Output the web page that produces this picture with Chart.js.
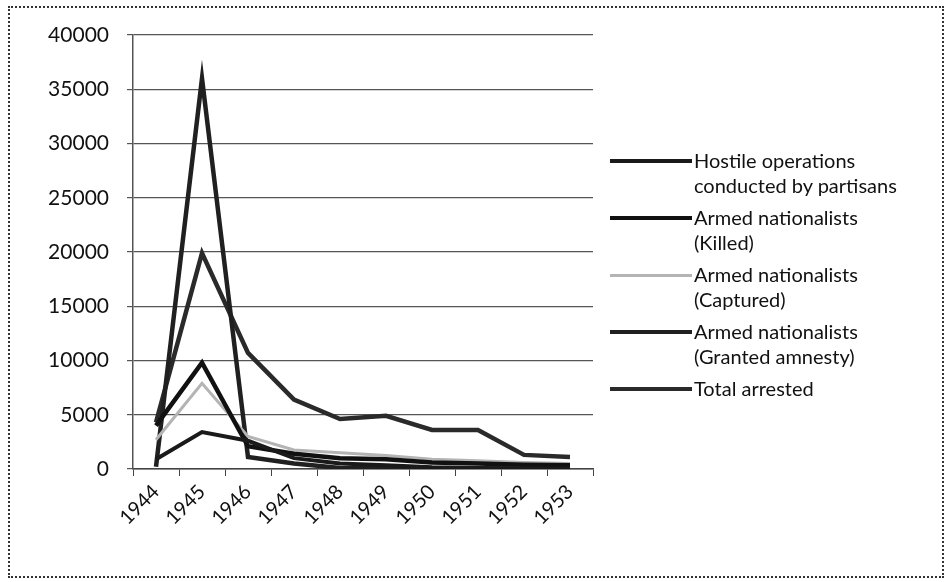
<!DOCTYPE html>
<html>
<head>
<meta charset="utf-8">
<script src="https://cdn.jsdelivr.net/npm/chart.js@4/dist/chart.umd.min.js"></script>
<style>
  body { margin: 0; background: #fff; }
  #wrap { position: relative; width: 951px; height: 582px; }
  #frame { position: absolute; left: 8px; top: 6px; width: 932px; height: 568px; border: 2px dotted #333; }
  #legend { position: absolute; left: 610px; top: 0; font-family: Lato, sans-serif; font-size: 20px; color: #111; }
  .item { position: absolute; left: 0; width: 330px; white-space: pre-line; line-height: 25px; }
  .sample { position: absolute; left: 0; width: 82px; }
  .txt { position: absolute; left: 84px; top: 0; width: 260px; }
</style>
</head>
<body>
<div id="wrap">
  <div id="frame"></div>
  <canvas id="canvas"></canvas>
  <div id="legend"></div>
</div>
<script>
var years = ['1944', '1945', '1946', '1947', '1948', '1949', '1950', '1951', '1952', '1953'];
var seriesNames = [
  'Hostile operations\nconducted by  partisans',
  'Armed nationalists\n(Killed)',
  'Armed nationalists\n(Captured)',
  'Armed nationalists\n(Granted amnesty)',
  'Total arrested'
];
var hostileOps = [900, 3400, 2600, 1000, 500, 350, 150, 100, 80, 50];
var killed = [4000, 9800, 2100, 1400, 1000, 900, 600, 500, 400, 350];
var captured = [2700, 7900, 3000, 1750, 1500, 1250, 900, 750, 600, 500];
var amnesty = [200, 36000, 1100, 500, 100, 80, 50, 40, 30, 20];
var arrested = [4300, 19900, 10700, 6400, 4600, 4900, 3600, 3600, 1300, 1100];
var yTicks = [0, 5000, 10000, 15000, 20000, 25000, 30000, 35000, 40000];

var lineColors = ['#1a1a1a', '#111111', '#b4b4b4', '#202020', '#2a2a2a'];
var lineWidths = [4, 4.5, 3, 4.5, 4.5];

var makeSet = function(i, values) {
  return {
    label: seriesNames[i],
    data: values,
    borderColor: lineColors[i],
    backgroundColor: lineColors[i],
    borderWidth: lineWidths[i],
    pointRadius: 0,
    tension: 0,
    fill: false
  };
};

// legend drawn as html next to the plot
var htmlLegend = {
  id: 'htmlLegend',
  afterUpdate: function(chart) {
    var box = document.getElementById('legend');
    box.innerHTML = '';
    var top = 148;
    chart.data.datasets.forEach(function(ds) {
      var item = document.createElement('div');
      item.className = 'item';
      item.style.top = top + 'px';
      var sample = document.createElement('div');
      sample.className = 'sample';
      sample.style.top = (13 - ds.borderWidth / 2) + 'px';
      sample.style.height = ds.borderWidth + 'px';
      sample.style.background = ds.borderColor;
      var txt = document.createElement('div');
      txt.className = 'txt';
      txt.textContent = ds.label;
      item.appendChild(sample);
      item.appendChild(txt);
      box.appendChild(item);
      top += 57;
    });
  }
};

var ctx = document.getElementById('canvas').getContext('2d');
window.myChart = new Chart(ctx, {
  type: 'line',
  data: {
    labels: years,
    datasets: [
      makeSet(0, hostileOps),
      makeSet(1, killed),
      makeSet(2, captured),
      makeSet(3, amnesty),
      makeSet(4, arrested)
    ]
  },
  plugins: [htmlLegend],
  options: {
    responsive: true,
    maintainAspectRatio: false,
    animation: false,
    layout: { padding: { left: 0, top: 35, right: 358, bottom: 0 } },
    plugins: {
      legend: { display: false },
      tooltip: { enabled: false }
    },
    scales: {
      x: {
        offset: true,
        grid: { drawOnChartArea: false, drawTicks: true, tickLength: 7, color: '#444', offset: true },
        border: { display: true, color: '#444', width: 1.5 },
        ticks: {
          color: '#111',
          font: { family: 'Lato', size: 20 },
          minRotation: 45,
          maxRotation: 45,
          padding: 4
        },
        afterFit: function(s) { s.height = 113; }
      },
      y: {
        min: 0,
        max: 40000,
        afterBuildTicks: function(s) {
          s.ticks = yTicks.map(function(v) { return { value: v }; });
        },
        grid: { color: '#555', lineWidth: 1.2, tickLength: 6 },
        border: { display: true, color: '#555', width: 1.5 },
        ticks: {
          color: '#111',
          font: { family: 'Lato', size: 21 },
          padding: 18,
          callback: function(v) { return String(v); }
        },
        afterFit: function(s) { s.width = 133; }
      }
    }
  }
});
</script>
</body>
</html>
